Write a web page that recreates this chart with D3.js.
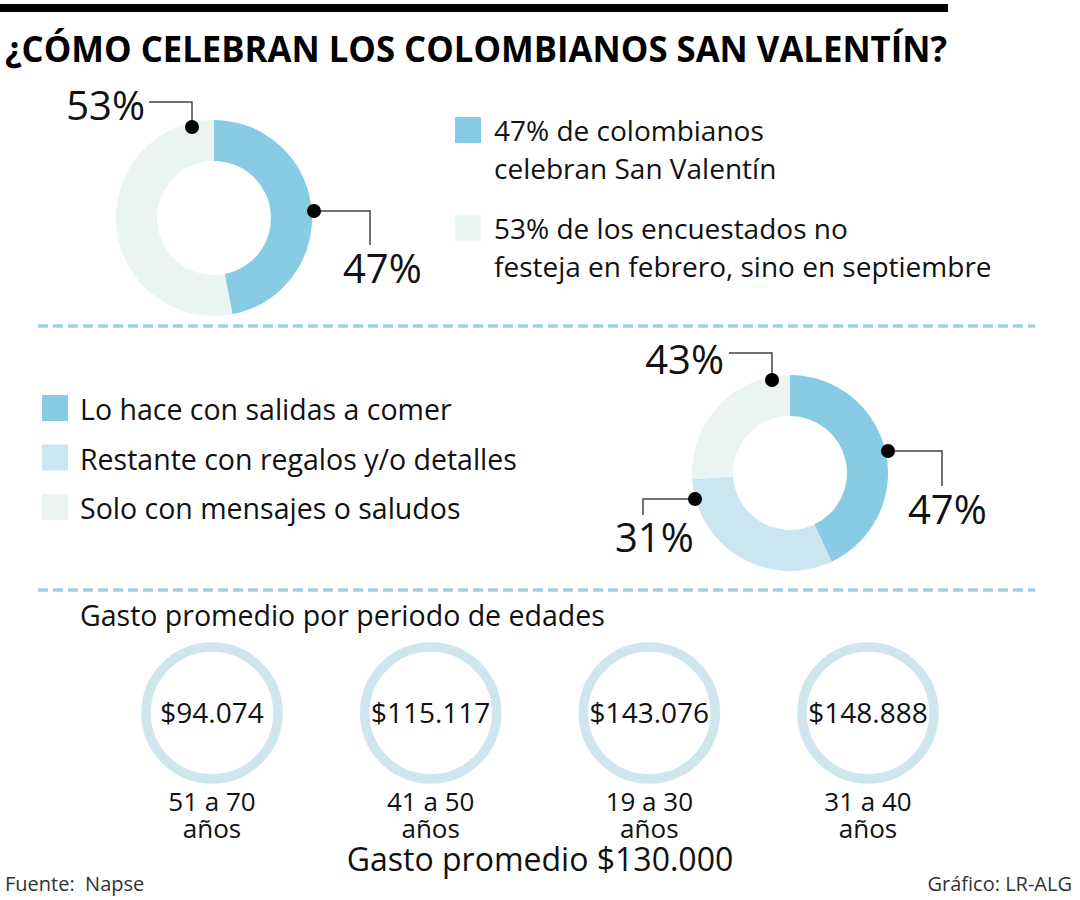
<!DOCTYPE html>
<html>
<head>
<meta charset="utf-8">
<script src="https://cdn.jsdelivr.net/npm/d3@7"></script>
<style>
  html, body { margin: 0; padding: 0; background: #fff; }
  svg { display: block; font-family: "Open Sans", "Noto Sans", sans-serif; }
</style>
</head>
<body>
<div id="chart"></div>
<script>
// ---- data ----
const title = "¿CÓMO CELEBRAN LOS COLOMBIANOS SAN VALENTÍN?";

// donut 1: celebrate or not
const celebrateValues = [47, 53];
const celebrateLegend = [
    ["47% de colombianos", "celebran San Valentín"],
    ["53% de los encuestados no", "festeja en febrero, sino en septiembre"]
];

// donut 2: how they celebrate (arc shares as drawn, labels as printed)
const howCategories = [
    "Lo hace con salidas a comer",
    "Restante con regalos y/o detalles",
    "Solo con mensajes o saludos"
];
const howArcShares = [43, 31, 26];
const howLabels = [47, 31, 43];

// average spend by age group
const spendTitle = "Gasto promedio por periodo de edades";
const ageGroups = ["51 a 70", "41 a 50", "19 a 30", "31 a 40"];
const spendValues = [94074, 115117, 143076, 148888];
const spendAverage = 130000;

const source = "Fuente:  Napse";
const credit = "Gráfico: LR-ALG";

// ---- layout ----
const WIDTH = 1080, HEIGHT = 900;
const BLUE = "#87cce4", MID = "#cce6f1", LIGHT = "#e9f4f3";
const RING = "#cfe6ef", DASH = "#9fd1e3";
const OUTER_R = 98, INNER_R = 57;

const locale = d3.formatLocale({ decimal: ",", thousands: ".", grouping: [3], currency: ["$", ""] });
const money = locale.format("$,");

const svg = d3.select("#chart").append("svg")
    .attr("width", WIDTH)
    .attr("height", HEIGHT);

// top rule and title
svg.append("rect")
    .attr("x", 0).attr("y", 4)
    .attr("width", 948).attr("height", 8)
    .attr("fill", "#000");

svg.append("text")
    .attr("x", 5).attr("y", 62)
    .attr("font-size", 36)
    .attr("font-weight", 700)
    .attr("fill", "#000")
    .attr("textLength", 942)
    .attr("lengthAdjust", "spacingAndGlyphs")
    .text(title);

const arc = d3.arc().innerRadius(INNER_R).outerRadius(OUTER_R);
const pie = d3.pie().sort(null).value(d => d);
const leaderLine = d3.line();

/**
 * Draw a donut with leader lines and percentage labels.
 * leaders: per slice, { pts: [[x,y]...] relative to the center, tx, ty, anchor }
 */
function drawDonut(cx, cy, values, colors, labels, leaders) {
    let g = svg.append("g").attr("transform", `translate(${cx},${cy})`);

    g.selectAll("path.slice")
        .data(pie(values))
        .join("path")
        .attr("class", "slice")
        .attr("d", arc)
        .attr("fill", (d, i) => colors[i]);

    leaders.forEach((l, i) => {
        g.append("path")
            .attr("d", leaderLine(l.pts))
            .attr("fill", "none")
            .attr("stroke", "#444")
            .attr("stroke-width", 1.5);
        g.append("circle")
            .attr("cx", l.pts[0][0]).attr("cy", l.pts[0][1])
            .attr("r", 7)
            .attr("fill", "#000");
        g.append("text")
            .attr("x", l.tx).attr("y", l.ty)
            .attr("text-anchor", l.anchor)
            .attr("font-size", 40)
            .attr("fill", "#111")
            .text(labels[i] + "%");
    });
}

// ---- section 1 ----
drawDonut(214, 218, celebrateValues, [BLUE, LIGHT], celebrateValues, [
    { pts: [[100, -7], [156, -7], [156, 27]], tx: 129, ty: 65, anchor: "start" },
    { pts: [[-22, -91], [-22, -116], [-65, -116]], tx: -69, ty: -98, anchor: "end" }
]);

let legend1Y = d3.scalePoint().domain(d3.range(celebrateLegend.length)).range([117, 215]);
let legend1 = svg.append("g").selectAll("g")
    .data(celebrateLegend)
    .join("g")
    .attr("transform", (d, i) => `translate(455,${legend1Y(i)})`);
legend1.append("rect")
    .attr("width", 26).attr("height", 26)
    .attr("fill", (d, i) => [BLUE, LIGHT][i]);
legend1.append("text")
    .attr("x", 39).attr("y", 24)
    .attr("font-size", 28)
    .attr("fill", "#111")
    .selectAll("tspan")
    .data(d => d)
    .join("tspan")
    .attr("x", 39)
    .attr("dy", (d, i) => i === 0 ? 0 : 38)
    .text(d => d);

// dashed separators
[326, 590].forEach(y => {
    svg.append("line")
        .attr("x1", 38).attr("x2", 1035)
        .attr("y1", y).attr("y2", y)
        .attr("stroke", DASH)
        .attr("stroke-width", 3.5)
        .attr("stroke-dasharray", "10,5");
});

// ---- section 2 ----
const howColors = [BLUE, MID, LIGHT];
let legend2Y = d3.scalePoint().domain(howCategories).range([395, 494]);
let legend2 = svg.append("g").selectAll("g")
    .data(howCategories)
    .join("g")
    .attr("transform", d => `translate(42,${legend2Y(d)})`);
legend2.append("rect")
    .attr("width", 26).attr("height", 26)
    .attr("fill", (d, i) => howColors[i]);
legend2.append("text")
    .attr("x", 38).attr("y", 25)
    .attr("font-size", 28.5)
    .attr("fill", "#111")
    .text(d => d);

drawDonut(790, 473, howArcShares, howColors, howLabels, [
    { pts: [[98, -22], [152, -22], [152, 13]], tx: 118, ty: 51, anchor: "start" },
    { pts: [[-95, 26], [-147, 26], [-147, 42]], tx: -175, ty: 79, anchor: "start" },
    { pts: [[-18, -93], [-18, -120], [-61, -120]], tx: -66, ty: -99, anchor: "end" }
]);

// ---- section 3 ----
svg.append("text")
    .attr("x", 80).attr("y", 626)
    .attr("font-size", 28.5)
    .attr("fill", "#111")
    .text(spendTitle);

let xAge = d3.scalePoint().domain(ageGroups).range([212, 868]);
let ring = svg.append("g").selectAll("g")
    .data(ageGroups)
    .join("g")
    .attr("transform", d => `translate(${xAge(d)},713)`);
ring.append("circle")
    .attr("r", 66)
    .attr("fill", "none")
    .attr("stroke", RING)
    .attr("stroke-width", 9.5);
ring.append("text")
    .attr("y", 10)
    .attr("text-anchor", "middle")
    .attr("font-size", 28)
    .attr("fill", "#111")
    .text((d, i) => money(spendValues[i]));
// age range on one line, "años" tucked tight below it
ring.append("text")
    .attr("y", 98)
    .attr("text-anchor", "middle")
    .attr("font-size", 26)
    .attr("fill", "#111")
    .text(d => d);
ring.append("text")
    .attr("y", 125)
    .attr("text-anchor", "middle")
    .attr("font-size", 26)
    .attr("fill", "#111")
    .text("años");

svg.append("text")
    .attr("x", 540).attr("y", 871)
    .attr("text-anchor", "middle")
    .attr("font-size", 32)
    .attr("fill", "#111")
    .text("Gasto promedio " + money(spendAverage));

// footer
svg.append("text")
    .attr("x", 5).attr("y", 891)
    .attr("font-size", 20)
    .attr("fill", "#333")
    .style("white-space", "pre")
    .text(source);
svg.append("text")
    .attr("x", 1072).attr("y", 891)
    .attr("text-anchor", "end")
    .attr("font-size", 20)
    .attr("fill", "#333")
    .text(credit);
</script>
</body>
</html>
